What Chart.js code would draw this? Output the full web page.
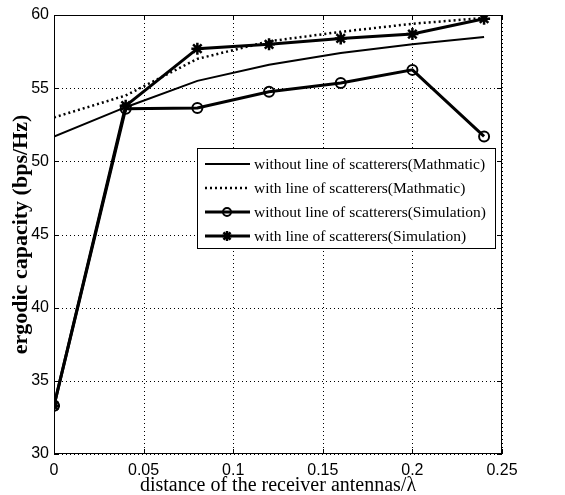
<!DOCTYPE html>
<html>
<head>
<meta charset="utf-8">
<script src="https://cdn.jsdelivr.net/npm/chart.js@4.4.0/dist/chart.umd.min.js"></script>
<style>
  html, body { margin: 0; padding: 0; background: #fff; }
  #wrap { position: relative; width: 565px; height: 495px; }
</style>
</head>
<body>
<div id="wrap"><canvas id="c" width="565" height="495"></canvas></div>
<script>
// ---- data ----
const xValues = [0, 0.04, 0.08, 0.12, 0.16, 0.2, 0.24];
const mathWithout = [51.7, 53.7, 55.5, 56.6, 57.4, 58.0, 58.5];
const mathWith = [53.0, 54.5, 57.0, 58.2, 58.85, 59.4, 59.8];
const simWithout = [33.3, 53.6, 53.65, 54.75, 55.35, 56.25, 51.7];
const simWith = [33.3, 53.8, 57.7, 58.0, 58.4, 58.7, 59.75];
const seriesLabels = [
  'without line of scatterers(Mathmatic)',
  'with line of scatterers(Mathmatic)',
  'without line of scatterers(Simulation)',
  'with line of scatterers(Simulation)'
];
const xTicks = [0, 0.05, 0.1, 0.15, 0.2, 0.25];
const yTicks = [30, 35, 40, 45, 50, 55, 60];
const xTitle = 'distance of the receiver antennas/\u03bb';
const yTitle = 'ergodic capacity (bps/Hz)';

const pts = arr => arr.map((v, i) => ({x: xValues[i], y: v}));

const SERIF = "'Liberation Serif', 'Times New Roman', serif";
const NARROW = "'Liberation Sans Narrow', 'Arial Narrow', 'Liberation Sans', sans-serif";

const dottedGrid = {
  id: 'dottedGrid',
  beforeDatasetsDraw(chart) {
    const {ctx, chartArea: a, scales} = chart;
    ctx.save();
    ctx.strokeStyle = '#000';
    ctx.lineWidth = 1;
    ctx.setLineDash([1, 3]);
    ctx.beginPath();
    xTicks.forEach(v => {
      const px = Math.round(scales.x.getPixelForValue(v)) + 0.5;
      ctx.moveTo(px, a.top); ctx.lineTo(px, a.bottom);
    });
    yTicks.forEach(v => {
      const py = Math.round(scales.y.getPixelForValue(v)) + 0.5;
      ctx.moveTo(a.left, py); ctx.lineTo(a.right, py);
    });
    ctx.stroke();
    ctx.restore();
  }
};

const frameAndLegend = {
  id: 'frameAndLegend',
  afterDatasetsDraw(chart) {
    const {ctx, chartArea: a, scales} = chart;
    ctx.save();
    // axes box
    ctx.strokeStyle = '#000';
    ctx.lineWidth = 1;
    ctx.setLineDash([]);
    ctx.strokeRect(a.left + 0.5, a.top + 0.5, a.right - a.left - 1, a.bottom - a.top - 1);
    // inner tick marks
    const tl = 5;
    ctx.beginPath();
    xTicks.forEach(v => {
      const px = Math.round(scales.x.getPixelForValue(v)) + 0.5;
      ctx.moveTo(px, a.bottom); ctx.lineTo(px, a.bottom - tl);
      ctx.moveTo(px, a.top); ctx.lineTo(px, a.top + tl);
    });
    yTicks.forEach(v => {
      const py = Math.round(scales.y.getPixelForValue(v)) + 0.5;
      ctx.moveTo(a.left, py); ctx.lineTo(a.left + tl, py);
      ctx.moveTo(a.right, py); ctx.lineTo(a.right - tl, py);
    });
    ctx.stroke();

    // legend box
    const bx = 197, by = 148, bw = 298, bh = 100;
    ctx.fillStyle = '#fff';
    ctx.fillRect(bx, by, bw, bh);
    ctx.strokeStyle = '#000';
    ctx.lineWidth = 1;
    ctx.strokeRect(bx + 0.5, by + 0.5, bw, bh);
    const rowY = [164, 188, 212, 236];
    chart.data.datasets.forEach((ds, i) => {
      const y = rowY[i];
      ctx.save();
      ctx.strokeStyle = '#000';
      ctx.lineWidth = ds.borderWidth;
      ctx.setLineDash(ds.borderDash || []);
      ctx.beginPath();
      ctx.moveTo(205, y); ctx.lineTo(250, y);
      ctx.stroke();
      ctx.restore();
      if (ds.pointRadius > 0) {
        ctx.save();
        ctx.setLineDash([]);
        ctx.fillStyle = ds.pointBackgroundColor;
        ctx.strokeStyle = ds.pointBorderColor;
        ctx.lineWidth = ds.pointBorderWidth;
        Chart.helpers.drawPoint(ctx, {
          pointStyle: ds.pointStyle,
          radius: ds.pointRadius - 1,
          borderWidth: ds.pointBorderWidth,
          rotation: 0
        }, 227, y);
        ctx.restore();
      }
      ctx.fillStyle = '#000';
      ctx.font = "15.5px " + SERIF;
      ctx.textBaseline = 'middle';
      ctx.textAlign = 'left';
      ctx.fillText(ds.label, 254, y + 1);
    });
    ctx.restore();
  }
};

new Chart(document.getElementById('c'), {
  type: 'line',
  data: {
    datasets: [
      {
        label: seriesLabels[0], data: pts(mathWithout),
        borderColor: '#000', borderWidth: 2, pointRadius: 0, tension: 0
      },
      {
        label: seriesLabels[1], data: pts(mathWith),
        borderColor: '#000', borderWidth: 2.5, borderDash: [2, 3], pointRadius: 0, tension: 0
      },
      {
        label: seriesLabels[2], data: pts(simWithout),
        borderColor: '#000', borderWidth: 3, pointRadius: 5, pointStyle: 'circle',
        pointBackgroundColor: 'rgba(0,0,0,0)', pointBorderColor: '#000', pointBorderWidth: 2, tension: 0
      },
      {
        label: seriesLabels[3], data: pts(simWith),
        borderColor: '#000', borderWidth: 3, pointRadius: 6, pointStyle: 'star',
        pointBackgroundColor: '#000', pointBorderColor: '#000', pointBorderWidth: 2.5, tension: 0
      }
    ]
  },
  options: {
    responsive: false,
    animation: false,
    devicePixelRatio: 1,
    layout: { padding: { top: 15, right: 63, left: 0, bottom: 0 } },
    plugins: { legend: { display: false }, tooltip: { enabled: false } },
    scales: {
      x: {
        type: 'linear', min: 0, max: 0.25,
        afterBuildTicks: s => { s.ticks = xTicks.map(v => ({value: v})); },
        afterFit: s => { s.height = 41; },
        ticks: {
          color: '#000', font: { family: NARROW, size: 16 }, padding: 7,
          callback: v => String(Math.round(v * 100) / 100)
        },
        grid: { display: false, drawTicks: false },
        border: { display: false },
        title: {
          display: true, text: xTitle, color: '#000',
          font: { family: SERIF, size: 20, lineHeight: 0.9 }, padding: { top: 0, bottom: 0 }
        }
      },
      y: {
        type: 'linear', min: 30, max: 60,
        afterBuildTicks: s => { s.ticks = yTicks.map(v => ({value: v})); },
        afterFit: s => { s.width = 54; },
        ticks: { color: '#000', font: { family: NARROW, size: 16 }, padding: 5 },
        grid: { display: false, drawTicks: false },
        border: { display: false },
        title: {
          display: true, text: yTitle, color: '#000',
          font: { family: SERIF, size: 22, weight: 'bold' }, padding: { top: 8, bottom: 0 }
        }
      }
    }
  },
  plugins: [dottedGrid, frameAndLegend]
});
</script>
</body>
</html>
